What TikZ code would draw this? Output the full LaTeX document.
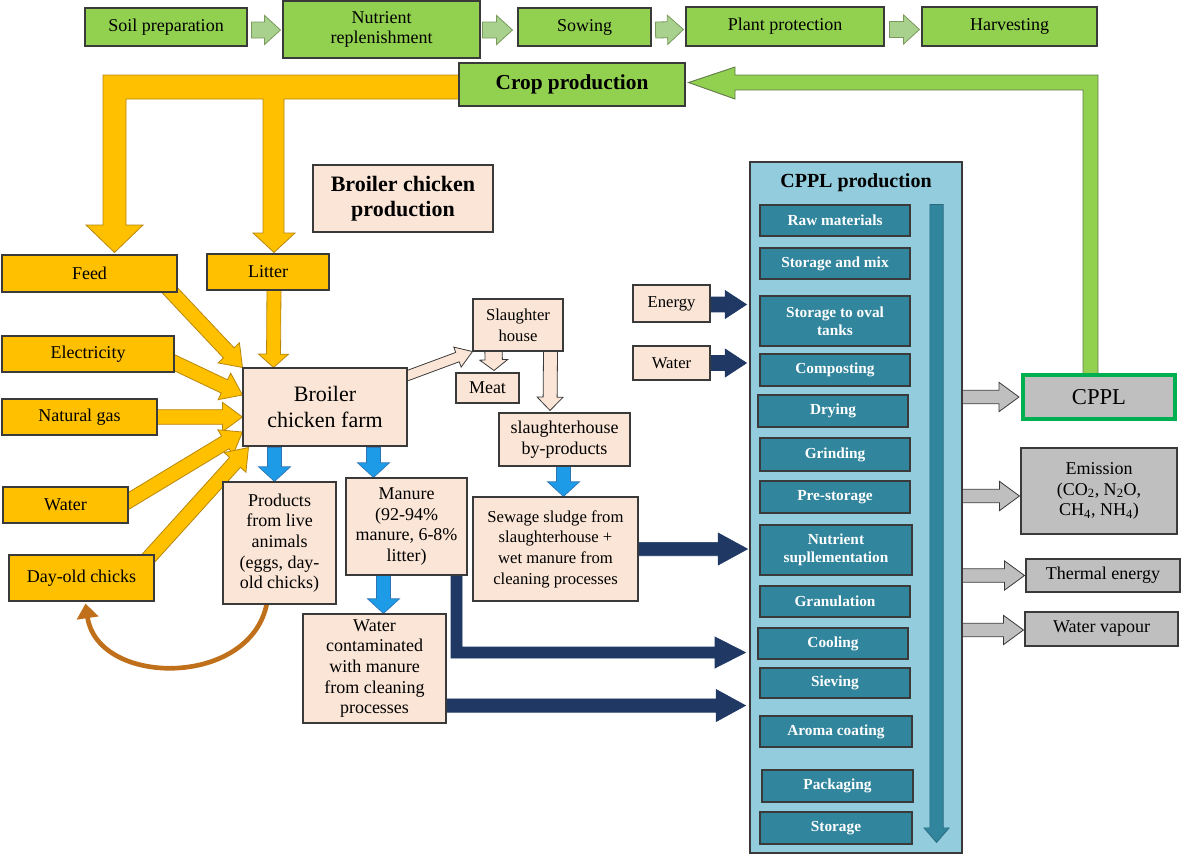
\documentclass[tikz,border=0pt]{standalone}
\usepackage{fontspec}
\setmainfont{Liberation Serif}
\usetikzlibrary{calc,arrows.meta}
\pgfdeclarelayer{bg}
\pgfsetlayers{bg,main}

\definecolor{gfill}{HTML}{92D050}
\definecolor{garrow}{HTML}{A9D18E}
\definecolor{garrowb}{HTML}{7A9A5C}
\definecolor{ofill}{HTML}{FFC000}
\definecolor{oline}{HTML}{B8860B}
\definecolor{peach}{HTML}{FBE5D6}
\definecolor{bluea}{HTML}{1E9BE6}
\definecolor{blueb}{HTML}{2E75B6}
\definecolor{navy}{HTML}{1F3864}
\definecolor{panelc}{HTML}{93CDDD}
\definecolor{tealbox}{HTML}{31859C}
\definecolor{greyf}{HTML}{BFBFBF}
\definecolor{cgreen}{HTML}{00B050}
\definecolor{brownc}{HTML}{C0701A}
\definecolor{edgec}{HTML}{3A3A3A}

\tikzset{
 bbox/.style={draw=edgec, line width=0.8pt, inner sep=1pt, align=center, font=\rmfamily\fontsize{13.5}{15.5}\selectfont},
 greenbox/.style={bbox, fill=gfill},
 orangebox/.style={bbox, fill=ofill},
 peachbox/.style={bbox, fill=peach},
 smallpeach/.style={peachbox, font=\rmfamily\fontsize{12.5}{15.5}\selectfont},
 stepbox/.style={draw=edgec, line width=0.8pt, fill=tealbox, text=white, align=center, inner sep=1pt, font=\rmfamily\bfseries\fontsize{11.5}{13.5}\selectfont},
 greybox/.style={bbox, fill=greyf},
 garrowst/.style={fill=garrow, draw=garrowb, line width=0.6pt},
 oarrow/.style={fill=ofill, draw=oline, line width=0.6pt},
 parrow/.style={fill=peach, draw=edgec, line width=0.6pt},
 barrowst/.style={fill=bluea, draw=blueb, line width=0.5pt},
 narrow/.style={fill=navy, draw=navy, line width=0.5pt},
 grarrow/.style={fill=greyf, draw=edgec, line width=0.6pt},
 tarrow/.style={fill=tealbox, draw=tealbox!80!black, line width=0.5pt},
}

% box from pixel corners
\newcommand{\bx}[7]{%
 \pgfmathsetmacro\bxw{(#5-#3)*0.75}%
 \pgfmathsetmacro\bxh{(#6-#4)*0.75}%
 \node[#1, minimum width=\bxw pt, minimum height=\bxh pt] (#2) at ({(#3+#5)/2},{(#4+#6)/2}) {#7};%
}
% block arrow: [style]{from}{to}{shaft half}{head half}{head length}
\newcommand{\blkarr}[6][]{%
 \coordinate (baA) at (#2);%
 \coordinate (baB) at (#3);%
 \coordinate (baH) at ($(baB)!#6!(baA)$);%
 \draw[#1] ($(baA)!#4!90:(baB)$) -- ($(baH)!#4!90:(baB)$) -- ($(baH)!#5!90:(baB)$) -- (baB) -- ($(baH)!#5!-90:(baB)$) -- ($(baH)!#4!-90:(baB)$) -- ($(baA)!#4!-90:(baB)$) -- cycle;%
}

\begin{document}
\begin{tikzpicture}[x=0.75pt,y=-0.75pt]
\useasboundingbox (0,0) rectangle (1182,854);

% ---- top row
\bx{greenbox}{soil}{85}{8}{247}{46}{Soil preparation}
\bx{greenbox}{nut}{283}{1}{480}{58}{Nutrient\\replenishment}
\bx{greenbox}{sow}{518}{8}{651}{46}{Sowing}
\bx{greenbox}{prot}{686}{7}{884}{46}{Plant protection}
\bx{greenbox}{harv}{922}{7}{1097}{46}{Harvesting}
\bx{greenbox, font=\rmfamily\bfseries\fontsize{16}{18}\selectfont}{crop}{459}{63}{685}{106}{Crop production}

% ---- broiler part
\bx{peachbox, font=\rmfamily\bfseries\fontsize{16.5}{19}\selectfont}{bcp}{313}{165}{493}{232}{Broiler chicken\\production}
\bx{orangebox}{feed}{2}{255}{177}{292}{Feed}
\bx{orangebox}{litter}{207}{254}{329}{290}{Litter}
\bx{orangebox}{elec}{2}{336}{174}{372}{Electricity}
\bx{orangebox}{gas}{2}{399}{157}{435}{Natural gas}
\bx{orangebox}{water}{3}{487}{128}{523}{Water}
\bx{orangebox}{chicks}{9}{555}{154}{601}{Day-old chicks}
\bx{peachbox, font=\rmfamily\fontsize{16.5}{19}\selectfont}{farm}{243}{368}{407}{446}{Broiler\\chicken farm}
\bx{smallpeach}{slaughter}{473}{299}{563}{351}{Slaughter\\house}
\bx{peachbox}{meat}{456}{373}{519}{403}{Meat}
\bx{peachbox}{byprod}{499}{413}{630}{466}{slaughterhouse\\by-products}
\bx{smallpeach}{sewage}{473}{497}{638}{601}{Sewage sludge from\\slaughterhouse +\\wet manure from\\cleaning processes}
\bx{peachbox}{products}{223}{482}{336}{604}{Products\\from live\\animals\\(eggs, day-\\old chicks)}
\bx{peachbox}{manure}{346}{478}{467}{575}{Manure\\(92-94\%\\manure, 6-8\%\\litter)}
\bx{peachbox}{watercont}{303}{614}{446}{723}{Water\\contaminated\\with manure\\from cleaning\\processes}
\bx{smallpeach}{energy}{633}{285}{710}{322}{Energy}
\bx{smallpeach}{waterin}{633}{346}{710}{380}{Water}

% ---- CPPL production panel
\bx{draw=edgec, line width=0.8pt, fill=panelc}{panel}{750}{162}{962}{853}{}
\node[font=\rmfamily\bfseries\fontsize{15}{17}\selectfont] (ptitle) at (856,183) {CPPL production};
\bx{stepbox}{raw}{760}{205}{910}{236}{Raw materials}
\bx{stepbox}{mix}{760}{248}{910}{279}{Storage and mix}
\bx{stepbox}{oval}{760}{296}{910}{346}{Storage to oval\\tanks}
\bx{stepbox}{comp}{760}{354}{910}{386}{Composting}
\bx{stepbox}{dry}{758}{395}{908}{427}{Drying}
\bx{stepbox}{grind}{760}{438}{910}{471}{Grinding}
\bx{stepbox}{pre}{760}{481}{910}{513}{Pre-storage}
\bx{stepbox}{nutr}{760}{525}{912}{575}{Nutrient\\supllementation}
\bx{stepbox}{gran}{760}{586}{910}{617}{Granulation}
\bx{stepbox}{cool}{758}{628}{908}{659}{Cooling}
\bx{stepbox}{siev}{760}{668}{910}{698}{Sieving}
\bx{stepbox}{aroma}{760}{716}{912}{747}{Aroma coating}
\bx{stepbox}{pack}{762}{770}{913}{802}{Packaging}
\bx{stepbox}{stor}{760}{812}{912}{844}{Storage}
\blkarr[tarrow]{$(panel.north east)+(-26,43)$}{$(panel.south east)+(-26,-11)$}{5pt}{9.5pt}{11pt}

% ---- outputs
\bx{greybox, draw=cgreen, line width=3pt, font=\rmfamily\fontsize{17}{19}\selectfont}{cppl}{1023}{375}{1175}{419}{CPPL}
\bx{greybox}{emis}{1021}{448}{1177}{534}{Emission\\(CO\textsubscript{2}, N\textsubscript{2}O,\\CH\textsubscript{4}, NH\textsubscript{4})}
\bx{greybox}{therm}{1026}{559}{1180}{592}{Thermal energy}
\bx{greybox}{vap}{1025}{612}{1178}{646}{Water vapour}

\begin{pgfonlayer}{bg}
% top row arrows
\blkarr[garrowst]{$(soil.east)+(4,3)$}{$(nut.west|-soil.east)+(-2,3)$}{6pt}{11pt}{12pt}
\blkarr[garrowst]{$(nut.east|-soil.east)+(2,3)$}{$(sow.west)+(-5,3)$}{6pt}{11pt}{12pt}
\blkarr[garrowst]{$(sow.east)+(4,3)$}{$(prot.west)+(-2,3)$}{6pt}{11pt}{12pt}
\blkarr[garrowst]{$(prot.east)+(5,3)$}{$(harv.west)+(-2,3)$}{6pt}{11pt}{12pt}

% return arrow CPPL -> crop production
\draw[fill=gfill, draw=garrowb!80!black, line width=0.7pt]
  (1083,385) -- (1083,90) -- (735,90) -- (735,99) -- ($(crop.east)+(3,-2)$) -- (735,67) -- (735,75)
  -- (1098,75) -- (1098,385) -- cycle;

% crop production -> feed / litter
\draw[oarrow]
  (465,75) -- (103,75) -- (103,225) -- (86,225) -- ($(feed.north)+(25,-2)$) -- (143,225) -- (126,225)
  -- (126,99) -- (263,99) -- (263,233) -- (253,233) -- ($(litter.north)+(6,-1)$) -- (295,233) -- (284,233)
  -- (284,99) -- (465,99) -- cycle;

% inputs to farm
\blkarr[oarrow]{$(feed.south east)+(-15,-10)$}{farm.north west}{5.5pt}{11pt}{15pt}
\blkarr[oarrow]{$(litter.south)+(6,-5)$}{$(farm.north west)+(31,0)$}{5.25pt}{11.25pt}{10pt}
\blkarr[oarrow]{$(elec.east)+(-10,4)$}{$(farm.west)+(0,-12)$}{5.5pt}{11pt}{15pt}
\blkarr[oarrow]{$(gas.east)+(-10,0)$}{$(farm.west)+(0,10)$}{5.5pt}{11pt}{15pt}
\blkarr[oarrow]{$(water.east)+(-10,2)$}{$(farm.west)+(0,25)$}{5.5pt}{11pt}{15pt}
\blkarr[oarrow]{$(chicks.north east)+(-10,8)$}{$(farm.south west)+(6,1)$}{5.5pt}{11pt}{15pt}

% farm -> slaughter house and products
\blkarr[parrow]{$(farm.north east)+(-5,10)$}{slaughter.south west}{3.75pt}{8pt}{12pt}
\blkarr[parrow]{$(slaughter.south west)+(21,-2)$}{$(meat.north)+(6.5,-2)$}{6.5pt}{10.5pt}{8pt}
\blkarr[parrow]{$(slaughter.south east)+(-13,-2)$}{$(byprod.north)+(-14.5,-2)$}{5.25pt}{9.75pt}{10pt}

\blkarr[barrowst]{$(products.north|-farm.south)+(-5,1)$}{$(products.north)+(-5,0)$}{5.25pt}{12pt}{11pt}
\blkarr[barrowst]{$(manure.north|-farm.south)+(-33,1)$}{$(manure.north)+(-33,0)$}{5.25pt}{12pt}{11pt}
\blkarr[barrowst]{$(manure.south)+(-23,0)$}{$(watercont.north)+(9,0)$}{5.25pt}{12pt}{11pt}
\blkarr[barrowst]{$(byprod.south)+(-1,0)$}{$(sewage.north)+(8,0)$}{5.25pt}{12pt}{11pt}

% brown loop products -> day-old chicks
\draw[brownc, line width=3.5pt, -{Triangle[width=16pt,length=11pt]}]
  ($(products.south)+(-12,-5)$) .. controls (255,688) and (98,688) .. ($(chicks.south)+(4,2)$);

% navy arrows into CPPL production
\blkarr[narrow]{$(energy.east)+(-3,1)$}{$(panel.west|-energy.east)+(-3,1)$}{5.6pt}{10.5pt}{16pt}
\blkarr[narrow]{$(waterin.east)+(-3,0)$}{$(panel.west|-waterin.east)+(-3,0)$}{5.6pt}{10.5pt}{16pt}
\blkarr[narrow]{$(sewage.east)+(-5,0)$}{$(panel.west|-sewage.east)+(-2,0)$}{5pt}{12pt}{22pt}
\draw[narrow] (451,570) -- (451,658) -- (715,658) -- (715,668) -- ($(panel.west|-cool.west)+(-4,9)$)
  -- (715,637) -- (715,647) -- (462,647) -- (462,570) -- cycle;
\blkarr[narrow]{$(watercont.south east)+(-5,-18)$}{$(panel.west|-watercont.south east)+(-4,-18)$}{5pt}{12pt}{22pt}

% outputs of CPPL production
\blkarr[grarrow]{$(panel.east|-cppl.west)+(-6,0)$}{$(cppl.west)+(-2,0)$}{5pt}{11pt}{15pt}
\blkarr[grarrow]{$(panel.east|-emis.west)+(-6,5)$}{$(emis.west)+(-1,5)$}{5pt}{11pt}{15pt}
\blkarr[grarrow]{$(panel.east|-therm.west)+(-6,0)$}{$(therm.west)+(-1,0)$}{5pt}{11pt}{15pt}
\blkarr[grarrow]{$(panel.east|-vap.west)+(-6,1)$}{$(vap.west)+(-1,1)$}{5pt}{11pt}{15pt}
\end{pgfonlayer}
\end{tikzpicture}
\end{document}
